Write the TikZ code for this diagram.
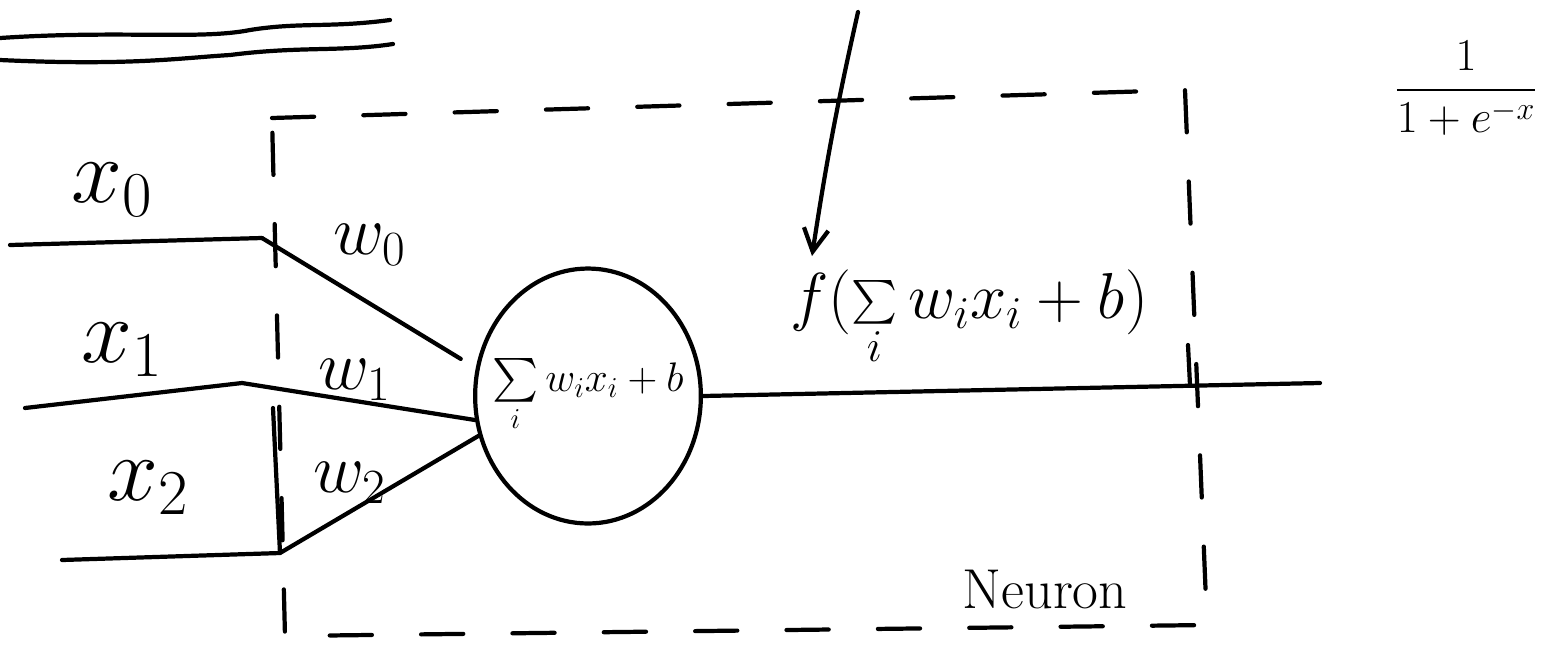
\documentclass[tikz,border=0pt]{standalone}
\usepackage{fix-cm}
\usepackage{amsmath}
\usetikzlibrary{shapes.geometric,arrows.meta,calc}

\begin{document}
\begin{tikzpicture}[x=0.02cm,y=-0.02cm,line width=2.4pt,line cap=round,line join=round,
  xlab/.style={font=\fontsize{52}{58}\selectfont},
  wlab/.style={font=\fontsize{40}{46}\selectfont},
  box/.style={dash pattern=on 24pt off 28pt},
  arr/.style={-{Straight Barb[length=13pt,width=14pt,line width=2.4pt]}}]
\useasboundingbox (0,0) rectangle (1559,654);
\node[xlab] (x0) at (112,190) {$x_0$};
\node[xlab] (x1) at (122,350) {$x_1$};
\node[xlab] (x2) at (148,488) {$x_2$};
\node[wlab] (w0) at (370,245) {$w_0$};
\node[wlab] (w1) at (355,380) {$w_1$};
\node[wlab] (w2) at (350,483) {$w_2$};
\node[draw,ellipse,minimum width=4.5cm,minimum height=5.1cm,inner sep=-9pt,
  font=\fontsize{23.5}{28}\selectfont] (sum) at (588,396) {$\sum\limits_i w_i x_i+b$};
\node[anchor=west,inner sep=0pt,font=\fontsize{37}{43}\selectfont] (fx) at (788,318)
  {$f(\sum\limits_i w_i x_i+b)$};
\node[font=\fontsize{26}{31}\selectfont] (sig) at (1466,88) {$\dfrac{1}{1+e^{-x}}$};
\node[font=\fontsize{32}{38}\selectfont] (neu) at (1045,590) {Neuron};
\coordinate (in0) at (10,245);
\coordinate (in1) at (25,408);
\coordinate (in2) at (62,560);
\coordinate (k0) at (262,238);
\coordinate (k1) at (242,383);
\coordinate (k2) at (280,553);
\coordinate (out) at (1320,383);
\coordinate (top) at (858,12);
\draw (in0) -- (k0);
\draw (in1) -- (k1) -- (sum.192);
\draw (in2) -- (k2) -- (sum.200);
\draw[shorten >=10pt] (k0) -- (sum.166);
\draw (sum.east) -- (out);
\draw[arr] (top) to[bend right=2] ($(fx.north west)+(24,-12)$);
\draw[box] (272,118) -- (1185,90) -- (1207,625) -- (285,636) -- cycle;
\draw (273,408) -- (280,553);
\draw (1188,345) -- (1190,385);
\draw (0,38) .. controls (120,30) and (200,40) .. (250,30) .. controls (300,22) and (330,28) .. (390,20);
\draw (0,60) .. controls (130,66) and (180,58) .. (230,55) .. controls (300,46) and (340,52) .. (393,44);
\end{tikzpicture}
\end{document}
